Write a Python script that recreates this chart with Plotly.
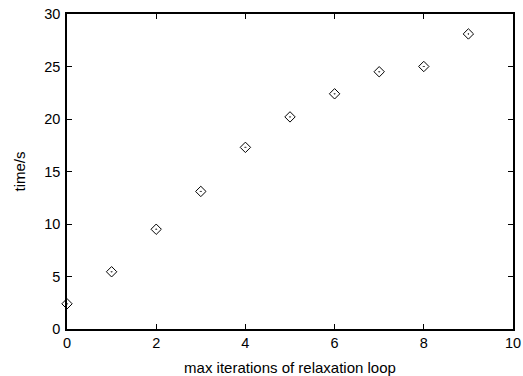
import plotly.graph_objects as go

iterations = [0, 1, 2, 3, 4, 5, 6, 7, 8, 9]
times = [2.4, 5.45, 9.5, 13.1, 17.3, 20.2, 22.4, 24.5, 25.0, 28.1]
x_ticks = [0, 2, 4, 6, 8, 10]
y_ticks = [0, 5, 10, 15, 20, 25, 30]

FONT = "Liberation Sans, Arial, sans-serif"

fig = go.Figure()
fig.add_trace(go.Scatter(
    x=iterations, y=times, mode="markers",
    marker=dict(symbol="diamond-open-dot", size=8, color="black", line=dict(width=1, color="black")),
    cliponaxis=False, showlegend=False,
))

axis_common = dict(
    showline=True, linecolor="black", linewidth=1.5, mirror="ticks",
    ticks="inside", ticklen=5, tickcolor="black", tickwidth=1,
    showgrid=False, zeroline=False, ticklabeloverflow="allow", automargin=False,
    tickfont=dict(family=FONT, size=14.5, color="black"),
)
fig.update_xaxes(range=[0, 10], tickvals=x_ticks,
                 title=dict(text="max iterations of relaxation loop", standoff=12,
                            font=dict(family=FONT, size=15, color="black")),
                 **axis_common)
fig.update_yaxes(range=[0, 30], tickvals=y_ticks, ticklabelstandoff=2,
                 title=dict(text="time/s", standoff=15,
                            font=dict(family=FONT, size=15, color="black")),
                 **axis_common)
fig.update_layout(
    width=523, height=376,
    margin=dict(l=67, r=10, t=14, b=47),
    plot_bgcolor="white", paper_bgcolor="white",
)
fig.write_html(
    "out.html",
    config={"displayModeBar": False},
    post_script="document.body.style.margin='0';document.body.style.overflow='hidden';",
)
